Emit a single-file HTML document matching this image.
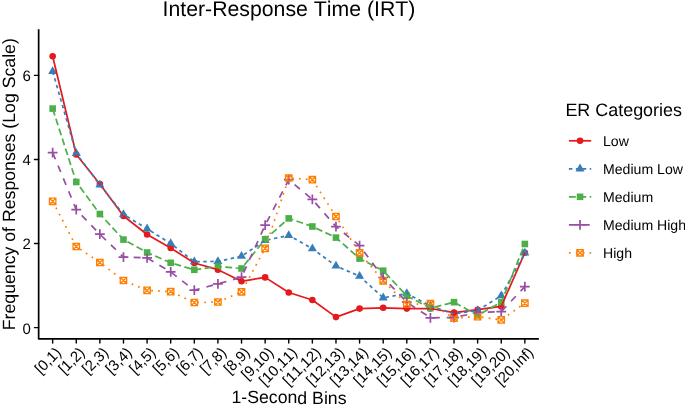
<!DOCTYPE html>
<html><head><meta charset="utf-8"><style>
html,body{margin:0;padding:0;background:#fff;}
svg{display:block;will-change:transform;}
text{font-family:"Liberation Sans",sans-serif;fill:#000;text-rendering:geometricPrecision;font-kerning:none;}
.ti{font-size:21.25px;}
.at{font-size:17.7px;}
.lt{font-size:17.93px;}
.tk{font-size:15px;}
.lg{font-size:14.1px;}
</style></head><body>
<svg width="685" height="406" viewBox="0 0 685 406">
<rect width="685" height="406" fill="#fff"/>
<text transform="translate(162.6,15.5) rotate(0.01)" class="ti">Inter-Response Time (IRT)</text>
<text transform="translate(289,403.5) rotate(0.01)" text-anchor="middle" class="at">1-Second Bins</text>
<text transform="translate(14.8,184.2) rotate(-89.99)" text-anchor="middle" class="at">Frequency of Responses (Log Scale)</text>
<path d="M38.65,29.3V338.8H538.9" fill="none" stroke="#000" stroke-width="1.7" stroke-linecap="butt" stroke-linejoin="round"/><path d="M34.45,75.4H38.65" stroke="#000" stroke-width="1.4" stroke-linecap="round"/><text transform="translate(30.75,81.40) rotate(0.01)" text-anchor="end" class="tk">6</text><path d="M34.45,159.5H38.65" stroke="#000" stroke-width="1.4" stroke-linecap="round"/><text transform="translate(30.75,165.50) rotate(0.01)" text-anchor="end" class="tk">4</text><path d="M34.45,243.5H38.65" stroke="#000" stroke-width="1.4" stroke-linecap="round"/><text transform="translate(30.75,249.50) rotate(0.01)" text-anchor="end" class="tk">2</text><path d="M34.45,327.6H38.65" stroke="#000" stroke-width="1.4" stroke-linecap="round"/><text transform="translate(30.75,333.60) rotate(0.01)" text-anchor="end" class="tk">0</text><path d="M52.65,338.8V343.00" stroke="#000" stroke-width="1.4" stroke-linecap="round"/><text transform="translate(54.35,345.80) rotate(-45)" text-anchor="end" class="tk" dy="0.72em">[0,1)</text><path d="M76.26,338.8V343.00" stroke="#000" stroke-width="1.4" stroke-linecap="round"/><text transform="translate(77.96,345.80) rotate(-45)" text-anchor="end" class="tk" dy="0.72em">[1,2)</text><path d="M99.87,338.8V343.00" stroke="#000" stroke-width="1.4" stroke-linecap="round"/><text transform="translate(101.57,345.80) rotate(-45)" text-anchor="end" class="tk" dy="0.72em">[2,3)</text><path d="M123.48,338.8V343.00" stroke="#000" stroke-width="1.4" stroke-linecap="round"/><text transform="translate(125.18,345.80) rotate(-45)" text-anchor="end" class="tk" dy="0.72em">[3,4)</text><path d="M147.09,338.8V343.00" stroke="#000" stroke-width="1.4" stroke-linecap="round"/><text transform="translate(148.79,345.80) rotate(-45)" text-anchor="end" class="tk" dy="0.72em">[4,5)</text><path d="M170.70,338.8V343.00" stroke="#000" stroke-width="1.4" stroke-linecap="round"/><text transform="translate(172.40,345.80) rotate(-45)" text-anchor="end" class="tk" dy="0.72em">[5,6)</text><path d="M194.31,338.8V343.00" stroke="#000" stroke-width="1.4" stroke-linecap="round"/><text transform="translate(196.01,345.80) rotate(-45)" text-anchor="end" class="tk" dy="0.72em">[6,7)</text><path d="M217.92,338.8V343.00" stroke="#000" stroke-width="1.4" stroke-linecap="round"/><text transform="translate(219.62,345.80) rotate(-45)" text-anchor="end" class="tk" dy="0.72em">[7,8)</text><path d="M241.53,338.8V343.00" stroke="#000" stroke-width="1.4" stroke-linecap="round"/><text transform="translate(243.23,345.80) rotate(-45)" text-anchor="end" class="tk" dy="0.72em">[8,9)</text><path d="M265.14,338.8V343.00" stroke="#000" stroke-width="1.4" stroke-linecap="round"/><text transform="translate(266.84,345.80) rotate(-45)" text-anchor="end" class="tk" dy="0.72em">[9,10)</text><path d="M288.75,338.8V343.00" stroke="#000" stroke-width="1.4" stroke-linecap="round"/><text transform="translate(290.45,345.80) rotate(-45)" text-anchor="end" class="tk" dy="0.72em">[10,11)</text><path d="M312.36,338.8V343.00" stroke="#000" stroke-width="1.4" stroke-linecap="round"/><text transform="translate(314.06,345.80) rotate(-45)" text-anchor="end" class="tk" dy="0.72em">[11,12)</text><path d="M335.97,338.8V343.00" stroke="#000" stroke-width="1.4" stroke-linecap="round"/><text transform="translate(337.67,345.80) rotate(-45)" text-anchor="end" class="tk" dy="0.72em">[12,13)</text><path d="M359.58,338.8V343.00" stroke="#000" stroke-width="1.4" stroke-linecap="round"/><text transform="translate(361.28,345.80) rotate(-45)" text-anchor="end" class="tk" dy="0.72em">[13,14)</text><path d="M383.19,338.8V343.00" stroke="#000" stroke-width="1.4" stroke-linecap="round"/><text transform="translate(384.89,345.80) rotate(-45)" text-anchor="end" class="tk" dy="0.72em">[14,15)</text><path d="M406.80,338.8V343.00" stroke="#000" stroke-width="1.4" stroke-linecap="round"/><text transform="translate(408.50,345.80) rotate(-45)" text-anchor="end" class="tk" dy="0.72em">[15,16)</text><path d="M430.41,338.8V343.00" stroke="#000" stroke-width="1.4" stroke-linecap="round"/><text transform="translate(432.11,345.80) rotate(-45)" text-anchor="end" class="tk" dy="0.72em">[16,17)</text><path d="M454.02,338.8V343.00" stroke="#000" stroke-width="1.4" stroke-linecap="round"/><text transform="translate(455.72,345.80) rotate(-45)" text-anchor="end" class="tk" dy="0.72em">[17,18)</text><path d="M477.63,338.8V343.00" stroke="#000" stroke-width="1.4" stroke-linecap="round"/><text transform="translate(479.33,345.80) rotate(-45)" text-anchor="end" class="tk" dy="0.72em">[18,19)</text><path d="M501.24,338.8V343.00" stroke="#000" stroke-width="1.4" stroke-linecap="round"/><text transform="translate(502.94,345.80) rotate(-45)" text-anchor="end" class="tk" dy="0.72em">[19,20)</text><path d="M524.85,338.8V343.00" stroke="#000" stroke-width="1.4" stroke-linecap="round"/><text transform="translate(526.55,345.80) rotate(-45)" text-anchor="end" class="tk" dy="0.72em">[20,Inf)</text>
<circle cx="52.65" cy="56.20" r="3.3" fill="#E41A1C"/><circle cx="76.26" cy="154.50" r="3.3" fill="#E41A1C"/><circle cx="99.87" cy="184.00" r="3.3" fill="#E41A1C"/><circle cx="123.48" cy="216.00" r="3.3" fill="#E41A1C"/><circle cx="147.09" cy="234.50" r="3.3" fill="#E41A1C"/><circle cx="170.70" cy="248.00" r="3.3" fill="#E41A1C"/><circle cx="194.31" cy="263.00" r="3.3" fill="#E41A1C"/><circle cx="217.92" cy="269.70" r="3.3" fill="#E41A1C"/><circle cx="265.14" cy="277.40" r="3.3" fill="#E41A1C"/><circle cx="288.75" cy="292.50" r="3.3" fill="#E41A1C"/><circle cx="312.36" cy="300.00" r="3.3" fill="#E41A1C"/><circle cx="335.97" cy="317.10" r="3.3" fill="#E41A1C"/><circle cx="359.58" cy="308.60" r="3.3" fill="#E41A1C"/><circle cx="383.19" cy="307.80" r="3.3" fill="#E41A1C"/><circle cx="406.80" cy="308.60" r="3.3" fill="#E41A1C"/><circle cx="430.41" cy="308.50" r="3.3" fill="#E41A1C"/><circle cx="477.63" cy="309.70" r="3.3" fill="#E41A1C"/><circle cx="501.24" cy="306.40" r="3.3" fill="#E41A1C"/><circle cx="524.85" cy="252.70" r="3.3" fill="#E41A1C"/><path d="M52.65,66.20L57.15,74.00L48.15,74.00Z" fill="#377EB8"/><path d="M76.26,148.20L80.76,156.00L71.76,156.00Z" fill="#377EB8"/><path d="M99.87,179.70L104.37,187.50L95.37,187.50Z" fill="#377EB8"/><path d="M123.48,209.20L127.98,217.00L118.98,217.00Z" fill="#377EB8"/><path d="M147.09,223.60L151.59,231.40L142.59,231.40Z" fill="#377EB8"/><path d="M170.70,238.30L175.20,246.10L166.20,246.10Z" fill="#377EB8"/><path d="M194.31,256.50L198.81,264.30L189.81,264.30Z" fill="#377EB8"/><path d="M217.92,256.20L222.42,264.00L213.42,264.00Z" fill="#377EB8"/><path d="M241.53,251.00L246.03,258.80L237.03,258.80Z" fill="#377EB8"/><path d="M265.14,235.20L269.64,243.00L260.64,243.00Z" fill="#377EB8"/><path d="M288.75,230.20L293.25,238.00L284.25,238.00Z" fill="#377EB8"/><path d="M312.36,243.40L316.86,251.20L307.86,251.20Z" fill="#377EB8"/><path d="M335.97,260.80L340.47,268.60L331.47,268.60Z" fill="#377EB8"/><path d="M359.58,271.00L364.08,278.80L355.08,278.80Z" fill="#377EB8"/><path d="M383.19,292.60L387.69,300.40L378.69,300.40Z" fill="#377EB8"/><path d="M406.80,288.30L411.30,296.10L402.30,296.10Z" fill="#377EB8"/><path d="M430.41,300.70L434.91,308.50L425.91,308.50Z" fill="#377EB8"/><path d="M454.02,308.70L458.52,316.50L449.52,316.50Z" fill="#377EB8"/><path d="M477.63,305.20L482.13,313.00L473.13,313.00Z" fill="#377EB8"/><path d="M501.24,290.50L505.74,298.30L496.74,298.30Z" fill="#377EB8"/><path d="M524.85,247.80L529.35,255.60L520.35,255.60Z" fill="#377EB8"/><rect x="49.35" y="105.30" width="6.6" height="6.6" fill="#4DAF4A"/><rect x="72.96" y="178.70" width="6.6" height="6.6" fill="#4DAF4A"/><rect x="96.57" y="210.70" width="6.6" height="6.6" fill="#4DAF4A"/><rect x="120.18" y="236.30" width="6.6" height="6.6" fill="#4DAF4A"/><rect x="143.79" y="249.20" width="6.6" height="6.6" fill="#4DAF4A"/><rect x="167.40" y="259.50" width="6.6" height="6.6" fill="#4DAF4A"/><rect x="191.01" y="266.50" width="6.6" height="6.6" fill="#4DAF4A"/><rect x="214.62" y="263.20" width="6.6" height="6.6" fill="#4DAF4A"/><rect x="238.23" y="265.20" width="6.6" height="6.6" fill="#4DAF4A"/><rect x="261.84" y="235.90" width="6.6" height="6.6" fill="#4DAF4A"/><rect x="285.45" y="215.10" width="6.6" height="6.6" fill="#4DAF4A"/><rect x="309.06" y="223.20" width="6.6" height="6.6" fill="#4DAF4A"/><rect x="332.67" y="234.30" width="6.6" height="6.6" fill="#4DAF4A"/><rect x="356.28" y="255.30" width="6.6" height="6.6" fill="#4DAF4A"/><rect x="379.89" y="267.40" width="6.6" height="6.6" fill="#4DAF4A"/><rect x="403.50" y="292.50" width="6.6" height="6.6" fill="#4DAF4A"/><rect x="427.11" y="304.80" width="6.6" height="6.6" fill="#4DAF4A"/><rect x="450.72" y="298.90" width="6.6" height="6.6" fill="#4DAF4A"/><rect x="474.33" y="312.00" width="6.6" height="6.6" fill="#4DAF4A"/><rect x="497.94" y="298.90" width="6.6" height="6.6" fill="#4DAF4A"/><rect x="521.55" y="240.70" width="6.6" height="6.6" fill="#4DAF4A"/><path d="M47.75,152.60H57.55M52.65,147.70V157.50" stroke="#984EA3" stroke-width="1.72" fill="none"/><path d="M71.36,209.60H81.16M76.26,204.70V214.50" stroke="#984EA3" stroke-width="1.72" fill="none"/><path d="M94.97,234.20H104.77M99.87,229.30V239.10" stroke="#984EA3" stroke-width="1.72" fill="none"/><path d="M118.58,257.10H128.38M123.48,252.20V262.00" stroke="#984EA3" stroke-width="1.72" fill="none"/><path d="M142.19,257.90H151.99M147.09,253.00V262.80" stroke="#984EA3" stroke-width="1.72" fill="none"/><path d="M165.80,271.90H175.60M170.70,267.00V276.80" stroke="#984EA3" stroke-width="1.72" fill="none"/><path d="M189.41,290.20H199.21M194.31,285.30V295.10" stroke="#984EA3" stroke-width="1.72" fill="none"/><path d="M213.02,283.90H222.82M217.92,279.00V288.80" stroke="#984EA3" stroke-width="1.72" fill="none"/><path d="M236.63,277.20H246.43M241.53,272.30V282.10" stroke="#984EA3" stroke-width="1.72" fill="none"/><path d="M260.24,225.20H270.04M265.14,220.30V230.10" stroke="#984EA3" stroke-width="1.72" fill="none"/><path d="M283.85,179.70H293.65M288.75,174.80V184.60" stroke="#984EA3" stroke-width="1.72" fill="none"/><path d="M307.46,199.40H317.26M312.36,194.50V204.30" stroke="#984EA3" stroke-width="1.72" fill="none"/><path d="M331.07,226.60H340.87M335.97,221.70V231.50" stroke="#984EA3" stroke-width="1.72" fill="none"/><path d="M354.68,245.60H364.48M359.58,240.70V250.50" stroke="#984EA3" stroke-width="1.72" fill="none"/><path d="M378.29,277.50H388.09M383.19,272.60V282.40" stroke="#984EA3" stroke-width="1.72" fill="none"/><path d="M401.90,302.20H411.70M406.80,297.30V307.10" stroke="#984EA3" stroke-width="1.72" fill="none"/><path d="M425.51,317.80H435.31M430.41,312.90V322.70" stroke="#984EA3" stroke-width="1.72" fill="none"/><path d="M449.12,317.60H458.92M454.02,312.70V322.50" stroke="#984EA3" stroke-width="1.72" fill="none"/><path d="M472.73,312.50H482.53M477.63,307.60V317.40" stroke="#984EA3" stroke-width="1.72" fill="none"/><path d="M496.34,311.60H506.14M501.24,306.70V316.50" stroke="#984EA3" stroke-width="1.72" fill="none"/><path d="M519.95,286.70H529.75M524.85,281.80V291.60" stroke="#984EA3" stroke-width="1.72" fill="none"/><path d="M49.45,198.10h6.4v6.4h-6.4Z M49.45,198.10L55.85,204.50M55.85,198.10L49.45,204.50" stroke="#FF7F00" stroke-width="1.3" fill="none"/><path d="M73.06,243.30h6.4v6.4h-6.4Z M73.06,243.30L79.46,249.70M79.46,243.30L73.06,249.70" stroke="#FF7F00" stroke-width="1.3" fill="none"/><path d="M96.67,259.30h6.4v6.4h-6.4Z M96.67,259.30L103.07,265.70M103.07,259.30L96.67,265.70" stroke="#FF7F00" stroke-width="1.3" fill="none"/><path d="M120.28,277.30h6.4v6.4h-6.4Z M120.28,277.30L126.68,283.70M126.68,277.30L120.28,283.70" stroke="#FF7F00" stroke-width="1.3" fill="none"/><path d="M143.89,287.20h6.4v6.4h-6.4Z M143.89,287.20L150.29,293.60M150.29,287.20L143.89,293.60" stroke="#FF7F00" stroke-width="1.3" fill="none"/><path d="M167.50,288.40h6.4v6.4h-6.4Z M167.50,288.40L173.90,294.80M173.90,288.40L167.50,294.80" stroke="#FF7F00" stroke-width="1.3" fill="none"/><path d="M191.11,299.30h6.4v6.4h-6.4Z M191.11,299.30L197.51,305.70M197.51,299.30L191.11,305.70" stroke="#FF7F00" stroke-width="1.3" fill="none"/><path d="M214.72,298.80h6.4v6.4h-6.4Z M214.72,298.80L221.12,305.20M221.12,298.80L214.72,305.20" stroke="#FF7F00" stroke-width="1.3" fill="none"/><path d="M238.33,288.60h6.4v6.4h-6.4Z M238.33,288.60L244.73,295.00M244.73,288.60L238.33,295.00" stroke="#FF7F00" stroke-width="1.3" fill="none"/><path d="M261.94,245.20h6.4v6.4h-6.4Z M261.94,245.20L268.34,251.60M268.34,245.20L261.94,251.60" stroke="#FF7F00" stroke-width="1.3" fill="none"/><path d="M285.55,174.80h6.4v6.4h-6.4Z M285.55,174.80L291.95,181.20M291.95,174.80L285.55,181.20" stroke="#FF7F00" stroke-width="1.3" fill="none"/><path d="M309.16,176.50h6.4v6.4h-6.4Z M309.16,176.50L315.56,182.90M315.56,176.50L309.16,182.90" stroke="#FF7F00" stroke-width="1.3" fill="none"/><path d="M332.77,213.30h6.4v6.4h-6.4Z M332.77,213.30L339.17,219.70M339.17,213.30L332.77,219.70" stroke="#FF7F00" stroke-width="1.3" fill="none"/><path d="M356.38,249.60h6.4v6.4h-6.4Z M356.38,249.60L362.78,256.00M362.78,249.60L356.38,256.00" stroke="#FF7F00" stroke-width="1.3" fill="none"/><path d="M379.99,277.60h6.4v6.4h-6.4Z M379.99,277.60L386.39,284.00M386.39,277.60L379.99,284.00" stroke="#FF7F00" stroke-width="1.3" fill="none"/><path d="M403.60,301.10h6.4v6.4h-6.4Z M403.60,301.10L410.00,307.50M410.00,301.10L403.60,307.50" stroke="#FF7F00" stroke-width="1.3" fill="none"/><path d="M427.21,300.50h6.4v6.4h-6.4Z M427.21,300.50L433.61,306.90M433.61,300.50L427.21,306.90" stroke="#FF7F00" stroke-width="1.3" fill="none"/><path d="M450.82,314.90h6.4v6.4h-6.4Z M450.82,314.90L457.22,321.30M457.22,314.90L450.82,321.30" stroke="#FF7F00" stroke-width="1.3" fill="none"/><path d="M474.43,313.40h6.4v6.4h-6.4Z M474.43,313.40L480.83,319.80M480.83,313.40L474.43,319.80" stroke="#FF7F00" stroke-width="1.3" fill="none"/><path d="M498.04,316.70h6.4v6.4h-6.4Z M498.04,316.70L504.44,323.10M504.44,316.70L498.04,323.10" stroke="#FF7F00" stroke-width="1.3" fill="none"/><path d="M521.65,300.00h6.4v6.4h-6.4Z M521.65,300.00L528.05,306.40M528.05,300.00L521.65,306.40" stroke="#FF7F00" stroke-width="1.3" fill="none"/><circle cx="241.53" cy="281.30" r="3.3" fill="#E41A1C"/><circle cx="454.02" cy="312.60" r="3.3" fill="#E41A1C"/><polyline points="52.65,56.20 76.26,154.50 99.87,184.00 123.48,216.00 147.09,234.50 170.70,248.00 194.31,263.00 217.92,269.70 241.53,281.30 265.14,277.40 288.75,292.50 312.36,300.00 335.97,317.10 359.58,308.60 383.19,307.80 406.80,308.60 430.41,308.50 454.02,312.60 477.63,309.70 501.24,306.40 524.85,252.70" fill="none" stroke="#E41A1C" stroke-width="1.72" stroke-linejoin="round" stroke-linecap="butt"/><polyline points="52.65,71.40 76.26,153.40 99.87,184.90 123.48,214.40 147.09,228.80 170.70,243.50 194.31,261.70 217.92,261.40 241.53,256.20 265.14,240.40 288.75,235.40 312.36,248.60 335.97,266.00 359.58,276.20 383.19,297.80 406.80,293.50 430.41,305.90 454.02,313.90 477.63,310.40 501.24,295.70 524.85,253.00" fill="none" stroke="#377EB8" stroke-width="1.72" stroke-dasharray="3.466 3.466" stroke-dashoffset="-0.25" stroke-linejoin="round" stroke-linecap="butt"/><polyline points="52.65,108.60 76.26,182.00 99.87,214.00 123.48,239.60 147.09,252.50 170.70,262.80 194.31,269.80 217.92,266.50 241.53,268.50 265.14,239.20 288.75,218.40 312.36,226.50 335.97,237.60 359.58,258.60 383.19,270.70 406.80,295.80 430.41,308.10 454.02,302.20 477.63,315.30 501.24,302.20 524.85,244.00" fill="none" stroke="#4DAF4A" stroke-width="1.72" stroke-dasharray="6.932 3.466" stroke-dashoffset="-0.25" stroke-linejoin="round" stroke-linecap="butt"/><polyline points="52.65,152.60 76.26,209.60 99.87,234.20 123.48,257.10 147.09,257.90 170.70,271.90 194.31,290.20 217.92,283.90 241.53,277.20 265.14,225.20 288.75,179.70 312.36,199.40 335.97,226.60 359.58,245.60 383.19,277.50 406.80,302.20 430.41,317.80 454.02,317.60 477.63,312.50 501.24,311.60 524.85,286.70" fill="none" stroke="#984EA3" stroke-width="1.72" stroke-dasharray="6.932 6.932" stroke-dashoffset="-0.25" stroke-linejoin="round" stroke-linecap="butt"/><polyline points="52.65,201.30 76.26,246.50 99.87,262.50 123.48,280.50 147.09,290.40 170.70,291.60 194.31,302.50 217.92,302.00 241.53,291.80 265.14,248.40 288.75,178.00 312.36,179.70 335.97,216.50 359.58,252.80 383.19,280.80 406.80,304.30 430.41,303.70 454.02,318.10 477.63,316.60 501.24,319.90 524.85,303.20" fill="none" stroke="#FF7F00" stroke-width="1.72" stroke-dasharray="1.733 5.199" stroke-dashoffset="-0.25" stroke-linejoin="round" stroke-linecap="butt"/>
<text transform="translate(565.4,115.8) rotate(0.01)" class="lt">ER Categories</text><path d="M568.9,140.80H591.2" stroke="#E41A1C" stroke-width="1.72"/><circle cx="580.05" cy="140.80" r="3.3" fill="#E41A1C"/><text transform="translate(603.0,145.80) rotate(0.01)" class="lg">Low</text><path d="M568.9,168.80H591.2" stroke="#377EB8" stroke-width="1.72" stroke-dasharray="3.47 3.47"/><path d="M580.05,163.60L584.55,171.40L575.55,171.40Z" fill="#377EB8"/><text transform="translate(603.0,173.80) rotate(0.01)" class="lg">Medium Low</text><path d="M568.9,196.80H591.2" stroke="#4DAF4A" stroke-width="1.72" stroke-dasharray="6.93 3.47"/><rect x="576.75" y="193.50" width="6.6" height="6.6" fill="#4DAF4A"/><text transform="translate(603.0,201.80) rotate(0.01)" class="lg">Medium</text><path d="M568.9,224.80H591.2" stroke="#984EA3" stroke-width="1.72" stroke-dasharray="6.93 6.93"/><path d="M575.15,224.80H584.95M580.05,219.90V229.70" stroke="#984EA3" stroke-width="1.72" fill="none"/><text transform="translate(603.0,229.80) rotate(0.01)" class="lg">Medium High</text><path d="M568.9,252.80H591.2" stroke="#FF7F00" stroke-width="1.72" stroke-dasharray="1.73 5.20"/><path d="M576.85,249.60h6.4v6.4h-6.4Z M576.85,249.60L583.25,256.00M583.25,249.60L576.85,256.00" stroke="#FF7F00" stroke-width="1.3" fill="none"/><text transform="translate(603.0,257.80) rotate(0.01)" class="lg">High</text>
</svg>
</body></html>
